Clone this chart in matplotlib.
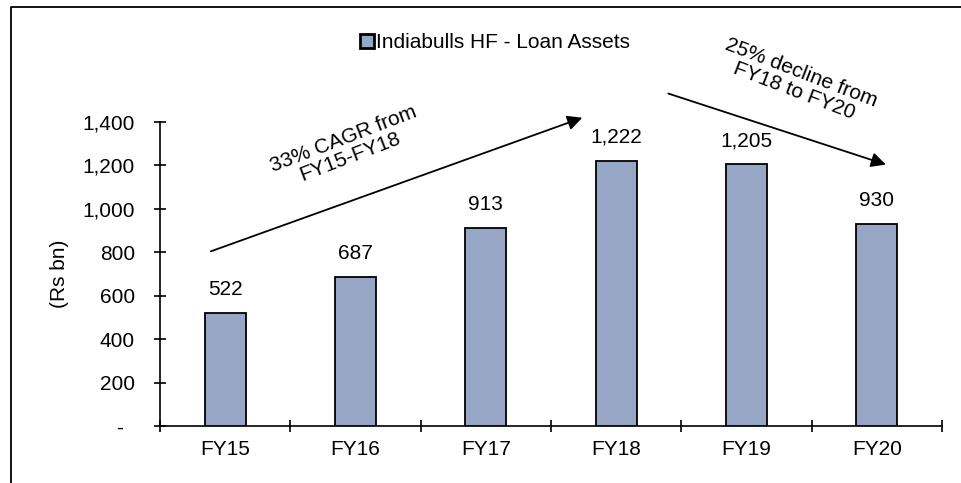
import numpy as np
import matplotlib.pyplot as plt
from matplotlib.lines import Line2D

plt.rcParams['font.family'] = ['Liberation Sans', 'DejaVu Sans']
plt.rcParams['font.size'] = 15

years = ['FY15', 'FY16', 'FY17', 'FY18', 'FY19', 'FY20']
loan_assets = [522, 687, 913, 1222, 1205, 930]
yticks = [0, 200, 400, 600, 800, 1000, 1200, 1400]
ytick_labels = ['-  ', '200', '400', '600', '800', '1,000', '1,200', '1,400']

fig = plt.figure(figsize=(9.62, 4.83), dpi=100)
ax = fig.add_axes([160/962, 1 - 426/483, 782/962, 304/483])

x = np.arange(len(years))
bars = ax.bar(x, loan_assets, width=0.315, color='#97a6c4', edgecolor='black',
              linewidth=1.3, label='Indiabulls HF - Loan Assets', zorder=3)
for xi, v in zip(x, loan_assets):
    ax.annotate(f'{v:,}', (xi, v), xytext=(0, 10), textcoords='offset points',
                ha='center', va='bottom')

ax.set_xlim(-0.5, 5.5)
ax.set_ylim(0, 1400)
ax.set_xticks(x)
ax.set_xticklabels(years)
ax.set_xticks(np.arange(-0.5, 6, 1), minor=True)
ax.tick_params(axis='x', which='major', length=0, pad=10)
ax.tick_params(axis='x', which='minor', direction='inout', length=8, width=1.2)
ax.set_yticks(yticks)
ax.set_yticklabels(ytick_labels)
ax.tick_params(axis='y', direction='inout', length=8, width=1.2, pad=14)
ax.spines['top'].set_visible(False)
ax.spines['right'].set_visible(False)
ax.spines['left'].set_linewidth(1.2)
ax.spines['bottom'].set_linewidth(1.2)
ax.set_ylabel('(Rs bn)', labelpad=10)

leg = ax.legend(loc='center', bbox_to_anchor=(495/962, 1 - 43/483),
                bbox_transform=fig.transFigure, frameon=False,
                handlelength=0.65, handleheight=0.65, handletextpad=0.1)
leg.legend_handles[0].set_linewidth(2)

# growth arrows
ax.annotate('', xy=(2.76, 1424), xytext=(-0.13, 800),
            arrowprops=dict(arrowstyle='-|>', color='black', lw=1.3, mutation_scale=22),
            annotation_clip=False)
ax.annotate('', xy=(5.09, 1200), xytext=(3.38, 1535),
            arrowprops=dict(arrowstyle='-|>', color='black', lw=1.3, mutation_scale=22),
            annotation_clip=False)
fig.text(347/962, 1 - 148/483, '33% CAGR from\nFY15-FY18', ha='center', va='center',
         rotation=21, rotation_mode='anchor', linespacing=1.05)
fig.text(798/962, 1 - 82/483, '25% decline from\nFY18 to FY20', ha='center', va='center',
         rotation=-21, rotation_mode='anchor', linespacing=1.05)

# outer frame (left and top edges)
fig.add_artist(Line2D([11/962, 11/962, 1], [0, 1 - 7/483, 1 - 7/483],
                      transform=fig.transFigure, color='black', lw=1.3))

fig.savefig('out.png', dpi=100)
